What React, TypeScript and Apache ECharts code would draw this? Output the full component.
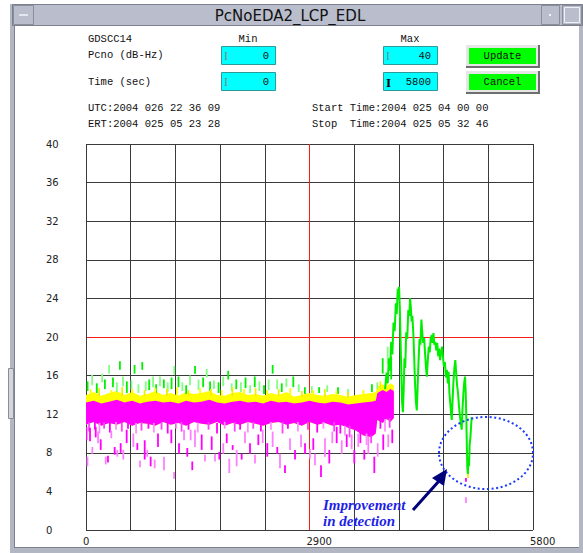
import React, { useEffect, useRef } from 'react';
import * as echarts from 'echarts';

// ---------- texts ----------
const windowTitle = 'PcNoEDA2_LCP_EDL';
const stationLabel = 'GDSCC14';
const rowLabels = ['Pcno (dB-Hz)', 'Time (sec)'];
const minValues = ['0', '0'];
const maxValues = ['40', '5800'];
const buttonLabels = ['Update', 'Cancel'];
const timeLines = ['UTC:2004 026 22 36 09', 'ERT:2004 025 05 23 28'];
const rangeLines = ['Start Time:2004 025 04 00 00', 'Stop  Time:2004 025 05 32 46'];
const annotation = ['Improvement', 'in detection'];

// ---------- axes ----------
const xMin = 0;
const xMax = 5800;
const xStep = 580;
const yMin = 0;
const yMax = 40;
const yStep = 4;
const xLabelValues = [0, 2900, 5800];

// ---------- dense noise band (time, lower edge, upper edges) ----------
const bandTimes = [
  0, 100, 200, 300, 400, 500, 600, 700, 800, 900,
  1000, 1100, 1200, 1300, 1400, 1500, 1600, 1700, 1800, 1900,
  2000, 2100, 2200, 2300, 2400, 2500, 2600, 2700, 2800, 2900,
  3000, 3100, 3200, 3300, 3400, 3500, 3600, 3700, 3760, 3780,
  3850, 3900, 3950, 3995,
];
const magentaLow = [
  10.9, 11.2, 10.8, 11.1, 10.9, 11.2, 10.8, 11.1, 11.0, 10.8,
  11.2, 10.9, 11.1, 10.8, 11.2, 11.0, 10.9, 11.2, 10.8, 11.1,
  10.9, 11.2, 11.0, 10.8, 11.1, 11.2, 10.9, 11.1, 10.8, 11.2,
  10.9, 11.1, 10.8, 10.9, 10.6, 10.3, 9.8, 9.6, 10.0, 11.4,
  11.1, 11.5, 11.2, 11.6,
];
const magentaHigh = [
  13.2, 13.4, 13.1, 13.3, 13.5, 13.2, 13.4, 13.1, 13.3, 13.4,
  13.2, 13.3, 13.1, 13.4, 13.2, 13.3, 13.5, 13.2, 13.1, 13.3,
  13.4, 13.2, 13.3, 13.1, 13.4, 13.2, 13.3, 13.1, 13.2, 13.4,
  13.2, 13.1, 13.3, 13.2, 13.0, 13.1, 13.2, 13.3, 13.4, 14.2,
  14.5, 14.3, 14.6, 14.4,
];
const yellowHigh = [
  14.0, 14.3, 13.9, 14.2, 14.4, 14.0, 14.3, 13.9, 14.1, 14.4,
  14.0, 14.2, 13.9, 14.3, 14.1, 14.2, 14.4, 14.0, 13.9, 14.2,
  14.3, 14.0, 14.1, 13.9, 14.2, 14.0, 14.3, 13.8, 14.0, 14.2,
  14.0, 13.9, 14.1, 14.0, 13.8, 14.0, 14.1, 14.2, 14.3, 14.9,
  15.1, 14.8, 15.2, 15.0,
];

// ---------- isolated strokes [time, low, high] ----------
const greenSpikes = [
  [20, 14.4, 15.4], [80, 15.0, 16.1], [140, 14.2, 15.2], [210, 15.3, 16.2], [245, 14.6, 15.6],
  [300, 16.2, 17.1], [350, 14.8, 15.8], [400, 14.3, 15.3], [440, 16.6, 17.5], [480, 14.9, 15.9],
  [530, 14.2, 15.4], [590, 14.5, 15.5], [630, 16.2, 17.1], [680, 14.2, 15.1], [730, 16.6, 17.4],
  [775, 14.4, 15.4], [820, 14.5, 15.6], [870, 14.8, 15.9], [910, 14.2, 15.1], [960, 14.9, 15.9],
  [1010, 14.7, 15.6], [1060, 14.3, 15.3], [1110, 14.6, 15.8], [1145, 16.1, 17.0], [1200, 14.8, 15.9],
  [1250, 14.4, 15.3], [1300, 14.1, 15.0], [1350, 15.0, 16.0], [1415, 16.2, 17.0], [1460, 14.5, 15.6],
  [1520, 14.8, 15.8], [1566, 15.8, 16.7], [1610, 14.4, 15.4], [1660, 14.6, 15.5], [1720, 14.2, 15.3],
  [1780, 14.9, 15.9], [1845, 15.6, 16.5], [1890, 14.4, 15.2], [1950, 14.6, 15.6], [2010, 14.3, 15.3],
  [2070, 14.7, 15.8], [2130, 14.2, 15.0], [2190, 14.8, 15.9], [2250, 14.4, 15.4], [2310, 14.1, 15.0],
  [2370, 14.5, 15.6], [2422, 16.2, 17.1], [2480, 14.6, 15.6], [2540, 14.3, 15.2], [2600, 14.8, 15.7],
  [2690, 14.8, 15.9], [2760, 14.3, 15.1], [2840, 14.1, 14.8], [2930, 14.2, 14.9], [3025, 14.2, 14.8],
  [3130, 14.3, 15.0], [3270, 14.1, 14.8], [3400, 13.9, 14.6], [3710, 14.3, 15.1], [3780, 14.6, 15.3],
  [3850, 16.2, 17.8], [3915, 17.2, 19.0], [3960, 15.6, 18.0],
];
const yellowSpikes = [
  [60, 13.8, 14.6], [170, 13.9, 14.7], [330, 13.8, 14.5], [470, 13.9, 14.8], [600, 13.8, 14.6],
  [760, 13.9, 14.5], [900, 13.8, 14.7], [1050, 13.9, 14.6], [1180, 13.8, 14.8], [1330, 13.9, 14.5],
  [1480, 13.8, 14.7], [1620, 13.9, 14.6], [1760, 13.8, 14.5], [1900, 13.9, 14.8], [2050, 13.8, 14.6],
  [2200, 13.9, 14.7], [2350, 13.8, 14.5], [2500, 13.9, 14.6], [2650, 13.8, 14.7], [2800, 13.8, 14.4],
  [2950, 13.7, 14.5], [3100, 13.8, 14.6], [3250, 13.7, 14.4], [3400, 13.7, 14.3], [3600, 13.8, 14.5],
  [3820, 14.6, 15.4], [3900, 14.6, 15.6], [4957, 5.4, 6.2],
];
const magentaSpikes = [
  [6, 9.3, 10.7], [19, 6.6, 7.6], [52, 9.2, 10.6], [82, 7.9, 8.6], [126, 9.6, 10.7],
  [156, 9.0, 10.2], [191, 8.3, 9.4], [256, 6.8, 7.6], [285, 7.0, 7.7], [328, 9.5, 10.3],
  [372, 7.8, 8.6], [406, 7.6, 8.3], [450, 8.0, 9.0], [484, 7.3, 8.3], [528, 9.0, 10.4],
  [614, 8.6, 10.0], [666, 8.3, 9.0], [701, 6.5, 7.2], [762, 7.3, 9.3], [795, 7.6, 8.3],
  [839, 6.6, 7.6], [891, 6.4, 7.3], [934, 8.6, 10.0], [1012, 6.2, 7.6], [1107, 9.0, 10.4],
  [1142, 5.3, 6.0], [1207, 7.9, 9.0], [1272, 9.3, 10.4], [1314, 7.6, 8.5], [1358, 9.3, 10.4],
  [1379, 6.2, 7.1], [1414, 8.6, 10.4], [1501, 8.3, 9.9], [1544, 7.1, 7.8], [1631, 8.3, 9.7],
  [1674, 7.1, 7.9], [1730, 7.3, 8.1], [1781, 7.9, 9.0], [1826, 9.0, 10.0], [1859, 5.9, 7.4],
  [1903, 8.3, 8.8], [1955, 6.6, 8.3], [2020, 7.3, 7.9], [2063, 9.0, 10.2], [2128, 7.9, 9.0],
  [2193, 6.9, 7.8], [2236, 8.8, 9.9], [2293, 9.0, 10.4], [2352, 7.6, 9.0], [2422, 8.6, 10.2],
  [2482, 7.9, 8.6], [2517, 6.4, 7.9], [2582, 5.9, 6.7], [2647, 8.3, 9.5], [2712, 7.3, 8.3],
  [2790, 8.6, 9.9], [2842, 7.9, 9.0], [2906, 7.4, 8.4], [2949, 8.3, 9.5], [2971, 6.7, 7.9],
  [3049, 5.5, 6.7], [3101, 7.6, 9.5], [3157, 6.9, 8.3], [3196, 9.0, 10.2], [3253, 9.0, 10.7],
  [3318, 7.9, 9.3], [3383, 8.6, 9.9], [3447, 8.4, 9.9], [3481, 6.9, 8.3], [3533, 8.6, 10.0],
  [3611, 7.3, 8.3], [3663, 7.9, 9.7], [3741, 5.9, 7.6], [3785, 7.6, 9.0], [3857, 8.3, 9.9],
  [3922, 8.6, 9.9], [3974, 9.0, 10.4], [4110, 13.5, 14.8], [4930, 5.0, 5.4], [4930, 2.8, 3.4],
];
const magentaFuzz = [
  [40, 10.2, 11.2], [115, 10.4, 11.2], [175, 10.0, 11.1], [235, 10.5, 11.2], [310, 10.1, 11.2],
  [390, 10.4, 11.2], [465, 10.2, 11.1], [545, 10.5, 11.2], [650, 10.0, 11.1], [720, 10.3, 11.2],
  [810, 10.5, 11.2], [880, 10.1, 11.1], [980, 10.4, 11.2], [1060, 10.0, 11.2], [1170, 10.5, 11.1],
  [1240, 10.2, 11.2], [1330, 10.4, 11.2], [1450, 10.1, 11.1], [1590, 10.4, 11.2], [1700, 10.0, 11.1],
  [1800, 10.5, 11.2], [1930, 10.2, 11.2], [2000, 10.4, 11.1], [2100, 10.1, 11.2], [2170, 10.5, 11.2],
  [2270, 10.2, 11.1], [2400, 10.4, 11.2], [2550, 10.0, 11.2], [2620, 10.5, 11.1], [2750, 10.2, 11.2],
  [2880, 10.4, 11.2], [3000, 10.1, 11.1], [3080, 10.5, 11.2], [3220, 10.2, 11.2], [3300, 10.0, 11.0],
  [3360, 9.8, 10.8], [3420, 9.6, 10.8], [3560, 9.0, 10.2], [3640, 8.8, 10.0], [3700, 9.0, 9.8],
  [3820, 10.5, 11.6], [3880, 10.2, 11.5], [3940, 10.6, 11.6],
];

// ---------- green trace after the band [time, dB-Hz] ----------
const greenCurve = [
  [3880, 14.6], [3900, 16.3], [3915, 15.2], [3930, 17.8], [3945, 16.5], [3960, 19.5], [3975, 18.2],
  [3990, 21.5], [4005, 20.6], [4020, 23.5], [4032, 22.4], [4045, 25.0], [4055, 24.2], [4062, 25.2],
  [4072, 23.0], [4082, 19.5], [4092, 16.0], [4102, 13.2], [4112, 12.2], [4122, 14.5], [4132, 17.8],
  [4142, 16.8], [4155, 20.5], [4168, 19.8], [4182, 22.8], [4195, 22.2], [4205, 24.0], [4215, 23.1],
  [4225, 21.6], [4235, 22.2], [4248, 20.2], [4258, 18.0], [4268, 15.5], [4280, 13.4], [4292, 12.4],
  [4302, 14.6], [4315, 17.5], [4328, 19.8], [4340, 19.2], [4352, 21.8], [4362, 20.6], [4375, 19.4],
  [4388, 19.9], [4400, 18.2], [4412, 16.8], [4422, 15.9], [4435, 17.6], [4448, 19.0], [4460, 18.4],
  [4472, 19.8], [4485, 20.2], [4497, 19.4], [4508, 20.4], [4520, 19.2], [4532, 19.5], [4545, 18.6],
  [4557, 19.4], [4570, 18.0], [4582, 18.8], [4595, 17.6], [4607, 18.4], [4620, 19.0], [4632, 17.9],
  [4645, 16.9], [4657, 17.4], [4670, 15.8], [4682, 16.6], [4695, 15.2], [4705, 16.4], [4715, 14.2],
  [4727, 13.1], [4738, 12.0], [4746, 11.4], [4755, 13.2], [4768, 15.4], [4780, 16.8], [4792, 17.6],
  [4803, 16.3], [4815, 15.0], [4828, 14.1], [4840, 12.8], [4852, 11.8], [4864, 11.0], [4875, 10.4],
  [4885, 12.5], [4897, 14.2], [4908, 15.3], [4918, 15.9], [4928, 14.0], [4936, 11.2], [4942, 8.6],
  [4948, 6.4], [4955, 5.8], [4962, 7.6], [4970, 6.6], [4978, 8.8], [4988, 9.6], [5004, 11.7],
];

// ---------- helpers ----------
const GRID = '#3a3a3a';
const RED = '#ff1a1a';

function bandSeries(name: string, low: number[], high: number[], color: string) {
  return {
    type: 'custom',
    name,
    silent: true,
    clip: true,
    data: bandTimes.map((t, i) => [t, low[i], high[i]]),
    encode: { x: 0, y: [1, 2] },
    renderItem: (params: any, api: any) => {
      if (params.dataIndex !== 0) return null;
      const top = bandTimes.map((t, i) => api.coord([t, high[i]]));
      const bottom = bandTimes.map((t, i) => api.coord([t, low[i]])).reverse();
      return { type: 'polygon', shape: { points: top.concat(bottom) }, style: { fill: color } };
    },
  };
}

function spikeSeries(name: string, data: number[][], colors: string[], width: number) {
  return {
    type: 'custom',
    name,
    silent: true,
    clip: true,
    data,
    encode: { x: 0, y: [1, 2] },
    renderItem: (params: any, api: any) => {
      const p1 = api.coord([api.value(0), api.value(1)]);
      const p2 = api.coord([api.value(0), api.value(2)]);
      return {
        type: 'rect',
        shape: { x: p1[0] - width / 2, y: p2[1], width, height: Math.max(1, p1[1] - p2[1]) },
        style: { fill: colors[params.dataIndex % colors.length] },
      };
    },
  };
}

const MONO = '10.5px "Liberation Mono", "DejaVu Sans Mono", monospace';

function txt(text: string, x: number, y: number, extra: any = {}) {
  return {
    type: 'text',
    x,
    y,
    silent: true,
    style: { text, fill: '#111', font: MONO, textAlign: 'left', textVerticalAlign: 'middle', ...extra },
  };
}
function box(x: number, y: number, w: number, h: number, fill: string, stroke?: string, lw = 1, z = 0) {
  return {
    type: 'rect',
    silent: true,
    z,
    shape: { x, y, width: w, height: h },
    style: { fill, stroke: stroke || null, lineWidth: lw },
  };
}

function buildGraphics() {
  const g: any[] = [];
  // window frame
  g.push(box(10, 4, 4, 549, '#b3b7c4'));
  g.push(box(579, 4, 4, 549, '#b3b7c4'));
  g.push(box(10, 548, 573, 5, '#b3b7c4'));
  g.push({ type: 'line', silent: true, shape: { x1: 14.5, y1: 26, x2: 14.5, y2: 548 }, style: { stroke: '#7d818e', lineWidth: 1 } });
  g.push({ type: 'line', silent: true, shape: { x1: 14, y1: 547.5, x2: 579, y2: 547.5 }, style: { stroke: '#7d818e', lineWidth: 1 } });
  g.push(box(8.5, 368.5, 5, 50, '#d4d6de', '#8a8d98'));
  // title bar
  g.push(box(12.5, 4.5, 570, 21, '#b9bdcc', '#7d818e'));
  g.push(box(13.5, 5.5, 20, 19, '#b9bdcc', '#8a8e9b'));
  g.push({ type: 'line', silent: true, shape: { x1: 19, y1: 15, x2: 28, y2: 15 }, style: { stroke: '#f4f4f8', lineWidth: 1.5 } });
  g.push(box(541.5, 5.5, 18, 19, '#b9bdcc', '#8a8e9b'));
  g.push(box(549, 14, 2, 2, '#f4f4f8'));
  g.push(box(562.5, 5.5, 19, 19, '#b9bdcc', '#8a8e9b'));
  g.push(box(564.5, 7.5, 15, 15, null as any, '#f0f0f4'));
  g.push({
    type: 'text', x: 290, y: 15.5, silent: true,
    style: { text: windowTitle, fill: '#111', font: '15px "DejaVu Sans", sans-serif', textAlign: 'center', textVerticalAlign: 'middle' },
  });

  // control panel
  g.push(txt(stationLabel, 88, 38.5));
  g.push(txt('Min', 248, 38.5, { textAlign: 'center' }));
  g.push(txt('Max', 410, 38.5, { textAlign: 'center' }));
  const rowY = [55, 81.5];
  rowLabels.forEach((l, i) => g.push(txt(l, 88, rowY[i])));
  const boxTop = [46, 72];
  boxTop.forEach((by, i) => {
    g.push(box(221.5, by + 0.5, 54, 18, '#00ffff', '#2c9a9a'));
    g.push(box(383.5, by + 0.5, 54, 18, '#00ffff', '#2c9a9a'));
    g.push(txt('I', 224, by + 10, { font: '12px "Liberation Serif", serif', fill: '#7a8a8a' }));
    g.push(txt('I', 386, by + 10, { font: i === 1 ? 'bold 13px "Liberation Serif", serif' : '12px "Liberation Serif", serif', fill: i === 1 ? '#000' : '#7a8a8a' }));
    g.push(txt(minValues[i], 269, by + 10, { textAlign: 'right' }));
    g.push(txt(maxValues[i], 431, by + 10, { textAlign: 'right' }));
    // button with bevel
    const bt = by - 1;
    g.push(box(466, bt, 74, 23, '#6e6e6e'));
    g.push(box(466, bt, 72, 21, '#e6e6e6'));
    g.push(box(469, bt + 3, 67, 16, '#00ff00'));
    g.push(txt(buttonLabels[i], 502.5, bt + 11, { textAlign: 'center' }));
  });
  timeLines.forEach((l, i) => g.push(txt(l, 88, 107.5 + i * 16)));
  rangeLines.forEach((l, i) => g.push(txt(l, 312, 107.5 + i * 16)));

  // annotation
  g.push({
    type: 'ellipse', silent: true, z: 100,
    shape: { cx: 486, cy: 453, rx: 47, ry: 36 },
    style: { fill: 'none', stroke: '#1d3bff', lineWidth: 2, lineDash: [2, 2.6] },
  });
  g.push({ type: 'line', silent: true, z: 100, shape: { x1: 413, y1: 510, x2: 439, y2: 481 }, style: { stroke: '#00007a', lineWidth: 3 } });
  g.push({ type: 'polygon', silent: true, z: 100, shape: { points: [[447, 469], [432, 478], [444, 486]] }, style: { fill: '#00007a' } });
  annotation.forEach((l, i) =>
    g.push({
      type: 'text', x: 323, y: 505 + i * 16, silent: true, z: 100,
      style: { text: l, fill: '#1f1fe6', font: 'italic bold 15px "Liberation Serif", serif', textAlign: 'left', textVerticalAlign: 'middle' },
    }),
  );
  return g;
}

const splitColors = Array.from({ length: 11 }, (_, i) => (i === 5 ? RED : GRID));

const option: any = {
  animation: false,
  backgroundColor: '#ffffff',
  grid: { left: 86, top: 144, width: 447, height: 386, containLabel: false },
  xAxis: {
    type: 'value',
    min: xMin,
    max: xMax,
    interval: xStep,
    axisLine: { show: false },
    axisTick: { show: false },
    splitLine: { show: true, lineStyle: { color: splitColors, width: 1 } },
    axisLabel: {
      show: true,
      align: 'left',
      margin: 6,
      padding: [0, 0, 0, -3],
      color: '#222',
      fontFamily: '"DejaVu Sans", sans-serif',
      fontSize: 10,
      formatter: (v: number) => (xLabelValues.includes(v) ? String(v) : ''),
    },
  },
  yAxis: {
    type: 'value',
    min: yMin,
    max: yMax,
    interval: yStep,
    axisLine: { show: false },
    axisTick: { show: false },
    splitLine: { show: true, lineStyle: { color: splitColors, width: 1 } },
    axisLabel: {
      show: true,
      align: 'left',
      margin: 40,
      color: '#222',
      fontFamily: '"DejaVu Sans", sans-serif',
      fontSize: 10,
    },
  },
  series: [
    bandSeries('yellow band', magentaLow, yellowHigh, '#ffff00'),
    bandSeries('magenta band', magentaLow, magentaHigh, '#ff00ff'),
    spikeSeries('green strokes', greenSpikes, ['#00f000', '#80ff80'], 1.8),
    spikeSeries('yellow strokes', yellowSpikes, ['#ffff00', '#f0f000'], 1.8),
    spikeSeries('magenta fuzz', magentaFuzz, ['#ff40ff', '#ff00ff', '#ff90ff'], 1.8),
    spikeSeries('magenta strokes', magentaSpikes, ['#ff00ff', '#ff80ff'], 1.8),
    {
      type: 'line',
      name: 'green trace',
      data: greenCurve,
      showSymbol: false,
      symbol: 'none',
      silent: true,
      clip: true,
      lineStyle: { color: '#00ee00', width: 2 },
      z: 5,
    },
  ],
  graphic: { elements: buildGraphics() },
};

export default function App() {
  const ref = useRef<HTMLDivElement>(null);
  useEffect(() => {
    if (!ref.current) return;
    const chart = echarts.init(ref.current, null, { renderer: 'svg' });
    chart.setOption(option);
    return () => chart.dispose();
  }, []);
  return (
    <div
      ref={ref}
      style={{ position: 'fixed', left: 0, top: 0, width: 583, height: 553, background: '#fff' }}
    />
  );
}
